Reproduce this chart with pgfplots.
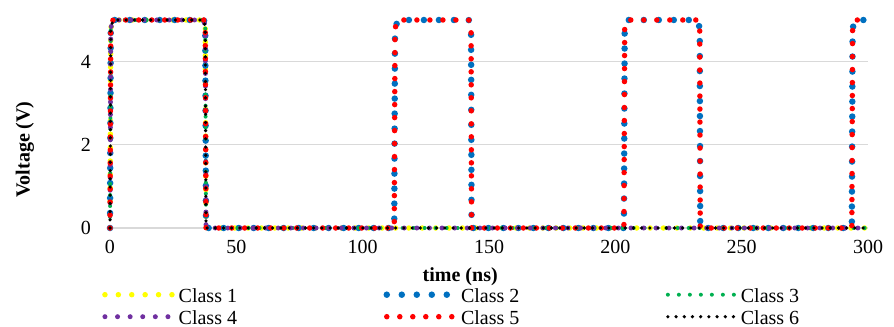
\documentclass[border=0pt]{standalone}
\usepackage{fontspec}
\setmainfont{Liberation Serif}
\usepackage{pgfplots}
\pgfplotsset{compat=1.18}
\definecolor{cA}{RGB}{255,255,0}
\definecolor{cB}{RGB}{0,112,192}
\definecolor{cC}{RGB}{0,176,80}
\definecolor{cD}{RGB}{112,48,160}
\definecolor{cE}{RGB}{255,0,0}
\definecolor{cF}{RGB}{0,0,0}
\begin{document}
\begin{tikzpicture}
\begin{axis}[
  scale only axis, width=758bp, height=208bp,
  xmin=0, xmax=300, ymin=0, ymax=5,
  xtick={0,50,...,300}, ytick={0,2,4},
  ymajorgrids, major grid style={draw=black!15, line width=1.3bp},
  axis line style={draw=none},
  major tick length=0pt, tick style={draw=none},
  clip=false,
  /pgf/number format/assume math mode=true,
  ticklabel style={font=\fontsize{20bp}{24bp}\selectfont},
  yticklabel style={inner sep=0pt, anchor=east, xshift=-19bp},
  xticklabel style={inner sep=0pt, anchor=north, yshift=-12bp},
  xlabel={\textbf{time (ns)}},
  ylabel={\textbf{Voltage (V)}},
  label style={font=\fontsize{20bp}{24bp}\selectfont},
  xlabel style={at={(axis description cs:0.462,0)}, anchor=center, yshift=-49bp},
  ylabel style={at={([xshift=-85bp]axis description cs:0,0.377)}, anchor=center},
  legend columns=3,
  legend style={at={(rel axis cs:0,0)}, anchor=north west, xshift=-8bp, yshift=-60bp,
    draw=none, fill=none, inner sep=0pt,
    font=\fontsize{20bp}{24bp}\selectfont,
    nodes={inner sep=0pt, text height=14bp, text depth=4bp},
    row sep=4bp,
    /tikz/every odd column/.append style={column sep=4bp},
    /tikz/every even column/.append style={column sep=146.5bp}},
  legend image code/.code={\draw[#1] (0bp,2.5bp) -- (67bp,2.5bp);},
]
\addplot[color=cA, line width=5.5bp, line cap=round, line join=round, dash pattern=on 0bp off 13.4bp]
 coordinates {(0,0) (0.3,4.8) (1.2,5) (37.2,5) (37.7,4.8) (38,0) (300,0)};
\addlegendentry{Class 1}
\addplot[color=cB, line width=6.5bp, line cap=round, line join=round, dash pattern=on 0bp off 15bp]
 coordinates {(0,0) (0.3,4.8) (1.2,5) (37.2,5) (37.7,4.8) (38,0) (112.5,0) (112.8,4.8) (114,5) (142,5) (142.9,4.8) (143.1,0) (203.4,0) (203.7,4.8) (205,5) (232.5,5) (233.4,4.8) (233.6,0) (293.6,0) (293.9,4.8) (295,5) (300,5)};
\addlegendentry{Class 2}
\addplot[color=cC, line width=4bp, line cap=round, line join=round, dash pattern=on 0bp off 11bp]
 coordinates {(0,0) (0.3,4.8) (1.2,5) (37.2,5) (37.7,4.8) (38,0) (300,0)};
\addlegendentry{Class 3}
\addplot[color=cD, line width=5bp, line cap=round, line join=round, dash pattern=on 0bp off 12.6bp]
 coordinates {(0,0) (0.3,4.8) (1.2,5) (37.2,5) (37.7,4.8) (38,0) (300,0)};
\addlegendentry{Class 4}
\addplot[color=cE, line width=5.5bp, line cap=round, line join=round, dash pattern=on 0bp off 13bp]
 coordinates {(0,0) (0.3,4.8) (1.2,5) (37.2,5) (37.7,4.8) (38,0) (112.5,0) (112.8,4.8) (114,5) (142,5) (142.9,4.8) (143.1,0) (203.4,0) (203.7,4.8) (205,5) (232.5,5) (233.4,4.8) (233.6,0) (293.6,0) (293.9,4.8) (295,5) (300,5)};
\addlegendentry{Class 5}
\addplot[color=cF, line width=3.6bp, line cap=round, line join=round, dash pattern=on 0bp off 8.2bp]
 coordinates {(0,0) (0.3,4.8) (1.2,5) (37.2,5) (37.7,4.8) (38,0) (300,0)};
\addlegendentry{Class 6}
\coordinate (o) at (rel axis cs:0,0);
\end{axis}
\pgfresetboundingbox
\path (o) ++(-110bp,-99bp) rectangle ++(894bp,327bp);
\end{tikzpicture}
\end{document}
